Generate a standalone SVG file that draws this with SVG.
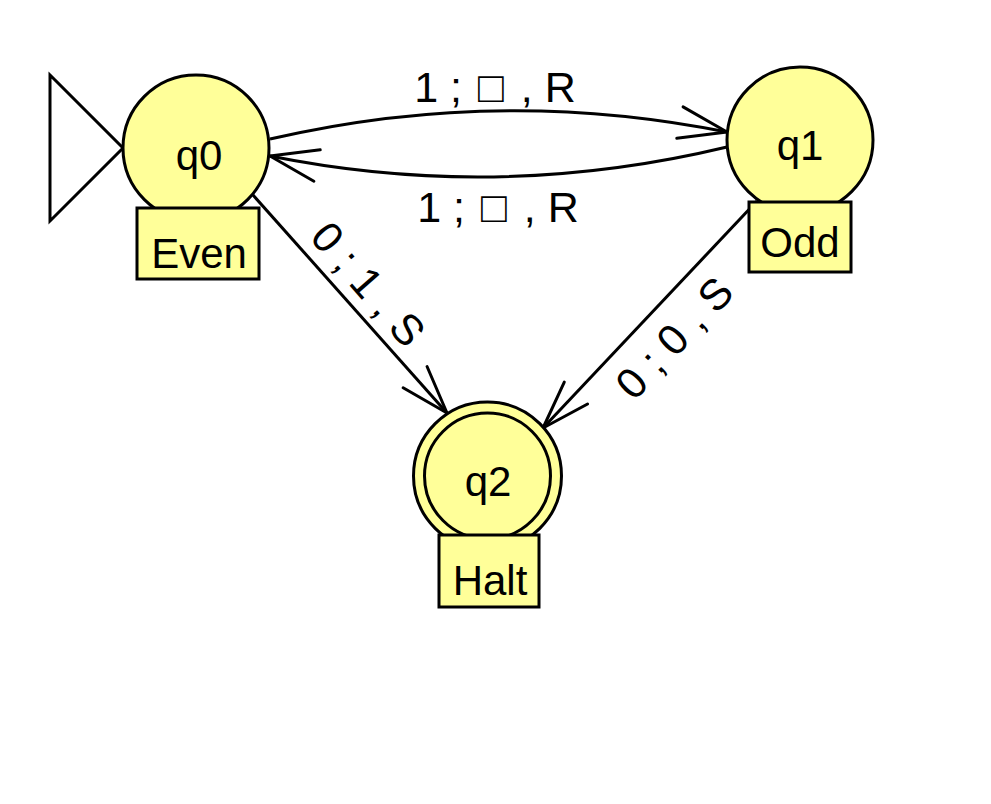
<svg xmlns="http://www.w3.org/2000/svg" width="991" height="804" viewBox="0 0 991 804">
<style>
.st{fill:#ffff99;stroke:#000;stroke-width:3}
.ring{fill:none;stroke:#000;stroke-width:3}
.box{fill:#ffff99;stroke:#000;stroke-width:3}
.edge{fill:none;stroke:#000;stroke-width:3}
.t{font-family:"Liberation Sans",Arial,sans-serif;fill:#000;text-anchor:middle}
.nm{font-size:42px}
.lb{font-size:42px}
.el{font-size:43px}
</style>
<defs>
<marker id="ah" markerUnits="userSpaceOnUse" viewBox="-52 -22 56 44" markerWidth="56" markerHeight="44" refX="0" refY="0" orient="auto">
<path d="M-48,-16 L0,0 L-48,16" fill="none" stroke="#000" stroke-width="3" stroke-linejoin="round" stroke-linecap="round"/>
</marker>
</defs>
<rect width="991" height="804" fill="#fff"/>
<g id="connectors">
<path class="edge" d="M270,139 Q498,86 727,132" marker-end="url(#ah)"/>
<path class="edge" d="M727,147 Q498,202 270,156" marker-end="url(#ah)"/>
<path class="edge" d="M253,195 L447,413" marker-end="url(#ah)"/>
<path class="edge" d="M757,201 L543,428" marker-end="url(#ah)"/>
<text class="t el" x="495" y="102">1 ; <tspan dx="4">□</tspan><tspan dx="5"> , R</tspan></text>
<text class="t el" x="498" y="222">1 ; <tspan dx="4">□</tspan><tspan dx="5"> , R</tspan></text>
<text class="t el" transform="translate(357,294) rotate(49)">0 ; 1 , S</text>
<text class="t el" transform="translate(685,348) rotate(-46.7)">0 ; 0 , S</text>
</g>
<g id="start">
<polygon points="50,75 123,148 50,221" fill="#fff" stroke="#000" stroke-width="3"/>
</g>
<g id="q0">
<circle class="st" cx="196" cy="148" r="73"/>
<text class="t nm" x="199" y="170">q0</text>
<rect class="box" x="137" y="208" width="122" height="71"/>
<text class="t lb" x="199" y="268">Even</text>
</g>
<g id="q1">
<circle class="st" cx="800" cy="140" r="73"/>
<text class="t nm" x="800" y="160">q1</text>
<rect class="box" x="749" y="202" width="102" height="70"/>
<text class="t lb" x="800" y="257">Odd</text>
</g>
<g id="q2">
<circle class="st" cx="487.5" cy="476" r="74"/>
<circle class="ring" cx="487.5" cy="476" r="63"/>
<text class="t nm" x="488" y="496">q2</text>
<rect class="box" x="439" y="535" width="100" height="72"/>
<text class="t lb" x="490" y="595">Halt</text>
</g>
</svg>
